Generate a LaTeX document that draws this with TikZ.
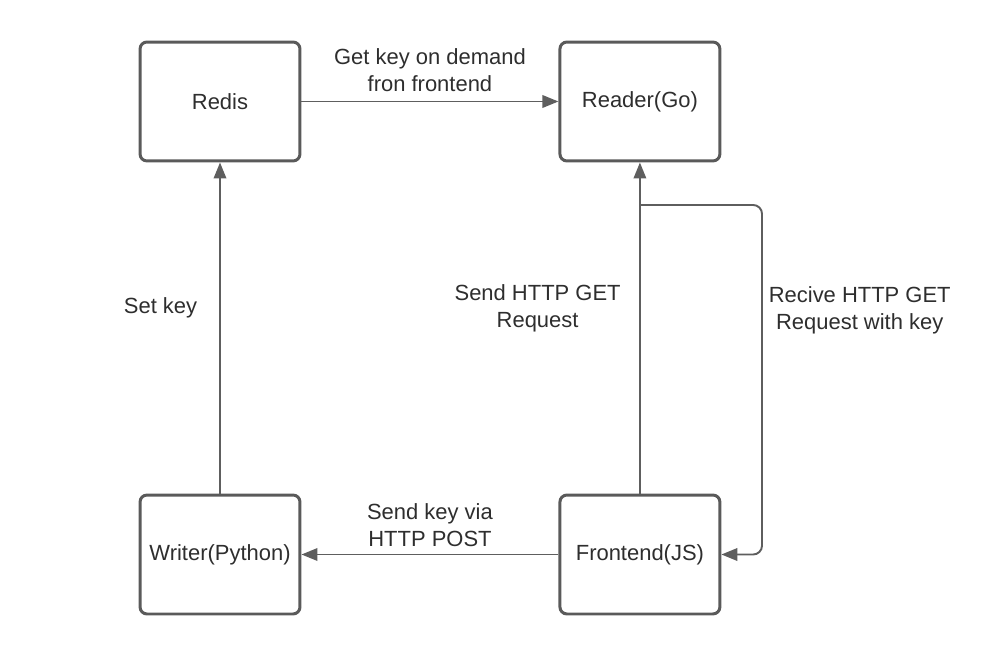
\documentclass[tikz,border=0pt]{standalone}
\usepackage{fontspec}
\setmainfont{Liberation Sans}
\usetikzlibrary{arrows.meta,positioning,calc}
\definecolor{boxline}{HTML}{5A5A5A}
\definecolor{flowline}{HTML}{5E5E5E}
\definecolor{labeltext}{HTML}{2E2E2E}

\begin{document}
\begin{tikzpicture}[x=0.02cm,y=-0.02cm,
		node distance=5.14cm,
		>={Triangle[length=0.32cm,width=0.25cm]}]
		\tikzset{service/.style={draw=boxline,line width=1.7pt,rounded corners=4pt,
				minimum width=3.2cm,minimum height=2.38cm,text=labeltext,
				font=\fontsize{12.5}{15}\selectfont},
			flow/.style={->,draw=flowline,line width=1.1pt},
			note/.style={text=labeltext,align=center,
				font=\fontsize{12.5}{15.4}\selectfont}}
		
		\useasboundingbox (0,0) rectangle (1000,655);
		
		\node[service] (redis)                    at (220,101.5) {Redis};
		\node[service] (reader)   [right=of redis]               {Reader(Go)};
		\node[service] (writer)                   at (220,554.5) {Writer(Python)};
		\node[service] (frontend) [right=of writer]              {Frontend(JS)};
		
		\coordinate (split) at (640,205);
		\coordinate (turn)  at (762,205);
		
		\draw[flow] (redis) -- node[note,above=0.06cm] {Get key on demand\\fron frontend} (reader);
		\draw[flow] (writer) -- node[note,pos=0.56,left=0.32cm] {Set key} (redis);
		\draw[flow] (frontend) -- node[note,pos=0.56,left=0.25cm] {Send HTTP GET\\Request} (reader);
		\draw[flow] (frontend) -- node[note,above=0.02cm] {Send key via\\HTTP POST} (writer);
		\draw[flow,rounded corners=5pt] (split) -- (turn)
		-- node[note,pos=0.3,right=0cm] {Recive HTTP GET\\Request with key} (turn |- frontend.east)
		-- (frontend.east);
		\end{tikzpicture}
\end{document}
